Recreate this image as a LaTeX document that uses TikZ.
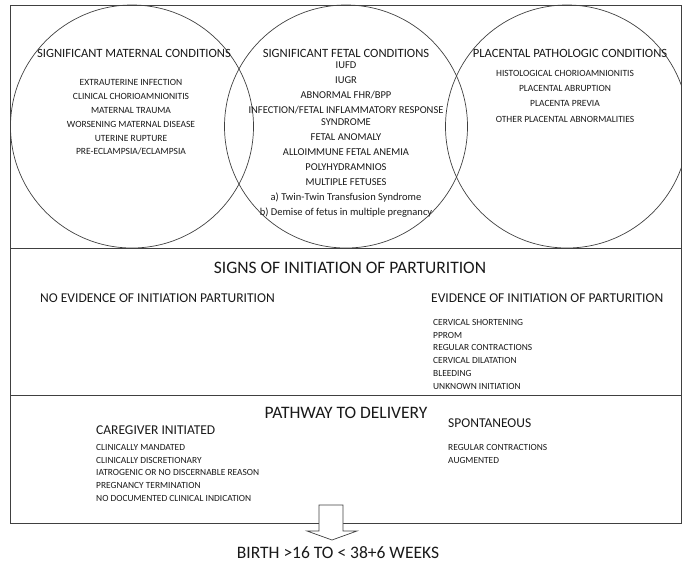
\documentclass[tikz,border=0pt]{standalone}
\usepackage{fontspec}
\setmainfont{Carlito}
\newcommand{\fsz}[2]{\fontsize{#1}{#2}\selectfont}

\begin{document}
\begin{tikzpicture}[x=1pt,y=-1pt,
  venn/.style={circle,draw=black!75,line width=0.7pt,minimum size=243pt,inner sep=0pt},
  ctitle/.style={inner sep=0pt,text=black!90,font=\fsz{12.6}{15}},
  citems/.style={inner sep=0pt,anchor=north,align=center,text=black!90},
  bigtitle/.style={inner sep=0pt,text=black!90,font=\fsz{17.5}{20}},
  subtitle/.style={inner sep=0pt,anchor=west,text=black!90,font=\fsz{13.5}{16}},
  litems/.style={inner sep=0pt,anchor=north west,align=left,text=black!90,font=\fsz{9.4}{#1}}]

\useasboundingbox (0,0) rectangle (682,564);

% the three condition circles, cut at the frame
\begin{scope}
\clip (10,5) rectangle (681,248);
\node[venn] (mat) at (132,126.5) {};
\node[venn] (fet) at (346,126.5) {};
\node[venn] (pla) at (567,126.5) {};
\end{scope}

\draw[black!75,line width=0.8pt] (10,5) rectangle (681,523);
\draw[black!75,line width=0.8pt] (10,248) -- (681,248);
\draw[black!75,line width=0.8pt] (10,395) -- (681,395);

\node[ctitle] (matT) at (134,53) {SIGNIFICANT MATERNAL CONDITIONS};
\node[ctitle] (fetT) at (346,53) {SIGNIFICANT FETAL CONDITIONS};
\node[ctitle] (plaT) at (570,53) {PLACENTAL PATHOLOGIC CONDITIONS};

\node[citems,font=\fsz{9.5}{13.8}] (matL) at (131,79.6)
  {EXTRAUTERINE INFECTION\\ CLINICAL CHORIOAMNIONITIS\\ MATERNAL TRAUMA\\
   WORSENING MATERNAL DISEASE\\ UTERINE RUPTURE\\ PRE-ECLAMPSIA/ECLAMPSIA};
\node[citems,font=\fsz{10.5}{15}] (fetL) at (346,61.6)
  {IUFD\\ IUGR\\ ABNORMAL FHR/BPP\\ INFECTION/FETAL INFLAMMATORY RESPONSE\\[-3pt]
   SYNDROME\\ FETAL ANOMALY\\ ALLOIMMUNE FETAL ANEMIA\\ POLYHYDRAMNIOS\\
   MULTIPLE FETUSES\\ a) Twin-Twin Transfusion Syndrome\\
   b) Demise of fetus in multiple pregnancy};
\node[citems,font=\fsz{9.5}{15.3}] (plaL) at (565,69.9)
  {HISTOLOGICAL CHORIOAMNIONITIS\\ PLACENTAL ABRUPTION\\ PLACENTA PREVIA\\
   OTHER PLACENTAL ABNORMALITIES};

% signs of initiation
\node[bigtitle] (signs) at (350,268) {SIGNS OF INITIATION OF PARTURITION};
\node[subtitle] (noev) at (40,298) {NO EVIDENCE OF INITIATION PARTURITION};
\node[subtitle] (ev) at (431,298) {EVIDENCE OF INITIATION OF PARTURITION};
\node[litems=12.75] (evL) at (433,319)
  {CERVICAL SHORTENING\\ PPROM\\ REGULAR CONTRACTIONS\\ CERVICAL DILATATION\\
   BLEEDING\\ UNKNOWN INITIATION};

% pathway to delivery
\node[bigtitle] (path) at (346,413) {PATHWAY TO DELIVERY};
\node[subtitle] (care) at (96,430) {CAREGIVER INITIATED};
\node[litems=12.75] (careL) at (96,444)
  {CLINICALLY MANDATED\\ CLINICALLY DISCRETIONARY\\ IATROGENIC OR NO DISCERNABLE REASON\\
   PREGNANCY TERMINATION\\ NO DOCUMENTED CLINICAL INDICATION};
\node[subtitle] (spon) at (448,423) {SPONTANEOUS};
\node[litems=13.5] (sponL) at (448,444)
  {REGULAR CONTRACTIONS\\ AUGMENTED};

% block arrow down to birth
\filldraw[fill=white,draw=black!75,line width=0.7pt]
  (319,505) -- (343,505) -- (343,531) -- (357,531) -- (332,540)
  -- (307,531) -- (319,531) -- cycle;
\node[bigtitle] (birth) at (338,553) {BIRTH >16 TO < 38+6 WEEKS};

\end{tikzpicture}
\end{document}
